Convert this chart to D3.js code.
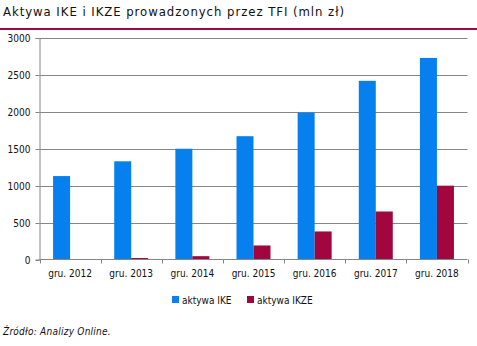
<!DOCTYPE html>
<html><head><meta charset="utf-8">
<script src="https://cdn.jsdelivr.net/npm/d3@7"></script>
<style>
html,body{margin:0;padding:0;background:#fff;}
svg{display:block;}
text{font-family:"DejaVu Sans Condensed","DejaVu Sans",sans-serif;}
</style></head>
<body>
<script>
const categories = ["gru. 2012","gru. 2013","gru. 2014","gru. 2015","gru. 2016","gru. 2017","gru. 2018"];
const ikeValues = [1130, 1330, 1500, 1670, 1990, 2420, 2730];
const ikzeValues = [0, 20, 45, 190, 380, 650, 1000];
const seriesNames = ["aktywa IKE", "aktywa IKZE"];
const seriesColors = ["#0580EE", "#A1063F"];
const yTicks = [0, 500, 1000, 1500, 2000, 2500, 3000];
const titleText = "Aktywa IKE i IKZE prowadzonych przez TFI (mln zł)";
const sourceText = "Źródło: Analizy Online.";

(function () {
const W = 477, H = 346;
const svg = d3.select("body").append("svg").attr("width", W).attr("height", H);

const pL = 39.5, pR = 467.5, pT = 38, pB = 259.5;
const x = d3.scaleBand().domain(categories).range([pL, pR]).paddingInner(0).paddingOuter(0);
const y = d3.scaleLinear().domain([0, 3000]).range([pB, pT]);
const groupW = 34;
const xs = d3.scaleBand().domain(seriesNames).range([0, groupW]);

// title
svg.append("text").attr("x", 3).attr("y", 16).attr("font-size", 13).attr("letter-spacing", 0.95)
  .attr("fill", "#111").text(titleText);
svg.append("line").attr("x1", 0).attr("x2", W).attr("y1", 29).attr("y2", 29)
  .attr("stroke", "#A1063F").attr("stroke-width", 2);

// gridlines
svg.append("g").selectAll("line").data(yTicks.filter(d => d > 0)).join("line")
  .attr("x1", pL).attr("x2", pR)
  .attr("y1", d => Math.round(y(d)) + 0.5).attr("y2", d => Math.round(y(d)) + 0.5)
  .attr("stroke", "#868686").attr("stroke-width", 1);

// y axis
const yAxis = d3.axisLeft(y).tickValues(yTicks).tickSize(4).tickPadding(5).tickFormat(d3.format("d"));
const gy = svg.append("g").attr("transform", `translate(${pL},0)`).call(yAxis);
gy.selectAll("path,line").attr("stroke", "#868686");
gy.selectAll("text").attr("font-size", 10).attr("fill", "#111")
  .attr("font-family", '"DejaVu Sans Condensed","DejaVu Sans",sans-serif');
gy.selectAll(".tick").attr("transform", d => `translate(0,${Math.round(y(d)) + 0.5})`);

// bars
const series = [ikeValues, ikzeValues];
series.forEach((vals, si) => {
  svg.append("g").selectAll("rect").data(vals).join("rect")
    .attr("x", (d, i) => x(categories[i]) + (x.bandwidth() - groupW) / 2 + xs(seriesNames[si]))
    .attr("width", xs.bandwidth())
    .attr("y", d => y(d))
    .attr("height", d => pB - y(d))
    .attr("fill", seriesColors[si]);
});

// x axis
const gx = svg.append("g").attr("transform", `translate(0,${pB})`);
gx.append("line").attr("x1", pL).attr("x2", pR).attr("y1", 0).attr("y2", 0).attr("stroke", "#868686");
const bounds = categories.map(c => x(c)).concat([pR]);
gx.selectAll(".tk").data(bounds).join("line").attr("class", "tk")
  .attr("x1", d => Math.round(d) + 0.5).attr("x2", d => Math.round(d) + 0.5)
  .attr("y1", 0).attr("y2", 4).attr("stroke", "#868686");
gx.selectAll(".lbl").data(categories).join("text").attr("class", "lbl")
  .attr("x", d => x(d) + x.bandwidth() / 2).attr("y", 17)
  .attr("text-anchor", "middle").attr("font-size", 10).attr("fill", "#111").text(d => d);

// legend
const legend = svg.append("g");
const legX = [172, 247];
seriesNames.forEach((n, i) => {
  legend.append("rect").attr("x", legX[i]).attr("y", 296).attr("width", 7).attr("height", 7).attr("fill", seriesColors[i]);
  legend.append("text").attr("x", legX[i] + 10).attr("y", 303.5).attr("font-size", 10).attr("fill", "#111").text(n);
});

// source
svg.append("text").attr("x", 3).attr("y", 335).attr("font-size", 10).attr("font-style", "italic")
  .attr("letter-spacing", 0.25).attr("fill", "#111").text(sourceText);
})();
</script>
</body></html>
